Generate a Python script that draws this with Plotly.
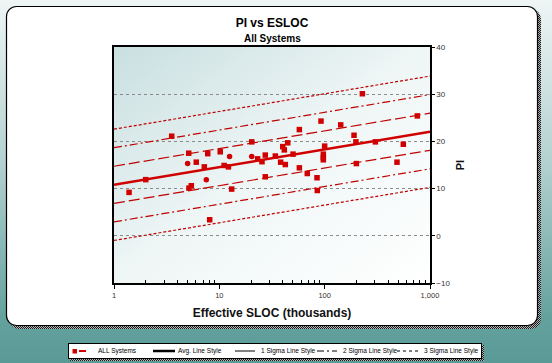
import base64
import math
import plotly.graph_objects as go

# ---------------- data ----------------
esloc_k = [1.39, 2.0, 3.53, 5.12, 5.0, 6.04, 5.42, 5.15, 7.2, 7.76,
           7.52, 8.1, 10.2, 11.1, 12.2, 12.5, 13.1, 20.3, 20.3, 23.1,
           25.4, 27.3, 27.3, 34.0, 38.2, 40.0, 41.4, 42.3, 44.6, 50.1,
           57.5, 57.5, 68.4, 84.6, 85.1, 92.3, 97.1, 97.1, 97.1, 100.0,
           142.0, 190.0, 198.0, 200.0, 228.0, 303.0, 486.0, 558.0, 758.0]
pi_values = [9.2, 11.9, 21.1, 17.5, 15.3, 15.6, 10.6, 10.1, 14.6, 17.4,
             11.9, 3.4, 17.8, 14.9, 14.6, 16.8, 9.9, 19.9, 16.8, 16.3,
             15.7, 17.1, 12.5, 16.9, 15.6, 18.9, 18.2, 15.1, 19.7, 17.3,
             22.5, 14.4, 13.2, 12.3, 9.6, 24.3, 17.3, 16.6, 16.1, 19.0,
             23.5, 21.3, 19.9, 15.3, 30.1, 19.9, 15.6, 19.4, 25.4]
round_points = [4, 10, 15, 18]

fit_intercept = 10.8   # PI at 1K ESLOC
fit_slope = 3.75       # PI per decade of ESLOC
fit_sigma = 3.93
fit_x = [1, 1000]
sigma_levels = [1, 2, 3]

x_tick_vals = [1, 10, 100, 1000]
x_tick_text = ["1", "10", "100", "1,000"]
x_minor_vals = [m * d for d in (1, 10, 100) for m in range(2, 10)]
y_tick_vals = [-10, 0, 10, 20, 30, 40]
legend_labels = ["ALL Systems", "Avg. Line Style", "1 Sigma Line Style",
                 "2 Sigma Line Style", "3 Sigma Line Style"]

# ---------------- layout geometry ----------------
W, H = 552, 363
L, R, T, B = 114, 430, 47, 283
PW, PH = R - L, B - T


def px_x(px):
    return (px - L) / PW


def px_y(py):
    return (B - py) / PH


RED_M = "#d00000"
RED_L = "#c00000"
FONT = "Liberation Sans, Arial, sans-serif"

svg = f'''<svg xmlns="http://www.w3.org/2000/svg" width="{W}" height="{H}" viewBox="0 0 {W} {H}" preserveAspectRatio="none">
<defs>
<linearGradient id="bg" x1="0" y1="0" x2="0" y2="1">
<stop offset="0" stop-color="#eef5f5"/><stop offset="0.45" stop-color="#b3d1d0"/>
<stop offset="0.88" stop-color="#63a19d"/><stop offset="1" stop-color="#5a9a96"/></linearGradient>
<linearGradient id="pa" x1="0" y1="0" x2="1" y2="1">
<stop offset="0" stop-color="#c9dfe0"/><stop offset="0.5" stop-color="#eff6f6"/>
<stop offset="1" stop-color="#ffffff"/></linearGradient>
<pattern id="chk" width="2" height="2" patternUnits="userSpaceOnUse">
<rect width="2" height="2" fill="#b8b8b8"/><rect width="1" height="1" fill="#1a1a1a"/>
<rect x="1" y="1" width="1" height="1" fill="#1a1a1a"/></pattern>
</defs>
<rect width="{W}" height="{H}" fill="url(#bg)"/>
<rect x="9" y="9" width="532" height="320" rx="10" fill="url(#chk)"/>
<rect x="6.5" y="6.5" width="531" height="319" rx="10" fill="#ffffff" stroke="#000" stroke-width="1.2"/>
<rect x="{L}" y="{T}" width="{PW}" height="{PH}" fill="url(#pa)"/>
<rect x="70" y="345" width="414" height="16" fill="url(#chk)"/>
<rect x="68.5" y="343.5" width="413" height="15" fill="#ffffff" stroke="#000" stroke-width="1"/>
</svg>'''
svg_uri = "data:image/svg+xml;base64," + base64.b64encode(svg.encode()).decode()

fig = go.Figure()

# fit lines
dash_styles = {1: "11px,4px", 2: "8px,3px,2px,3px", 3: "3px,2px"}
for k in sigma_levels:
    for sgn in (1, -1):
        ys = [fit_intercept + fit_slope * math.log10(x) + sgn * k * fit_sigma for x in fit_x]
        fig.add_trace(go.Scatter(x=fit_x, y=ys, mode="lines", hoverinfo="skip",
                                 line=dict(color=RED_L, width=1.2, dash=dash_styles[k])))
fig.add_trace(go.Scatter(x=fit_x, y=[fit_intercept + fit_slope * math.log10(x) for x in fit_x],
                         mode="lines", line=dict(color=RED_M, width=2.6), hoverinfo="skip"))

symbols = ["circle" if i in round_points else "square" for i in range(len(esloc_k))]
fig.add_trace(go.Scatter(x=esloc_k, y=pi_values, mode="markers", name=legend_labels[0],
                         marker=dict(symbol=symbols, size=5.5, color=RED_M, line=dict(width=0))))

fig.update_layout(
    width=W, height=H,
    margin=dict(l=L, r=W - R, t=T, b=H - B),
    paper_bgcolor="#5a9a96", plot_bgcolor="rgba(0,0,0,0)",
    showlegend=False,
    font=dict(family=FONT, color="#000"),
    title=dict(text="<b>PI vs ESLOC</b>", x=(L + R) / 2 / W, xanchor="center",
               y=1 - 23 / H, yanchor="middle", font=dict(size=12, color="#000")),
    images=[dict(source=svg_uri, xref="paper", yref="paper",
                 x=-L / PW, y=1 + T / PH, sizex=W / PW, sizey=H / PH,
                 xanchor="left", yanchor="top", sizing="stretch", layer="below")],
)

fig.update_xaxes(type="log", range=[0, 3], showgrid=False, zeroline=False,
                 tickmode="array", tickvals=x_tick_vals, ticktext=x_tick_text,
                 ticks="outside", ticklen=4, tickcolor="#000",
                 tickfont=dict(size=7.5, color="#333"),
                 showline=True, linecolor="#000", linewidth=1.5, mirror=True,
                 minor=dict(tickmode="array", tickvals=x_minor_vals, ticks="inside",
                            ticklen=3, tickcolor="#000", showgrid=False),
                 title=dict(text="<b>Effective SLOC (thousands)</b>",
                            font=dict(size=12, color="#111"), standoff=10))
fig.update_yaxes(range=[-10, 40], side="right", tickmode="array", tickvals=y_tick_vals,
                 ticks="outside", ticklen=3, tickcolor="#000",
                 tickfont=dict(size=8, color="#333"),
                 showgrid=True, gridcolor="#8a8a8a", gridwidth=1, griddash="3px,3px",
                 zeroline=False,
                 showline=True, linecolor="#000", linewidth=1.5, mirror=True,
                 title=dict(text="<b>PI</b>", font=dict(size=11, color="#111"), standoff=7))

# subtitle
fig.add_annotation(text="<b>All Systems</b>", xref="paper", yref="paper",
                   x=0.5, y=px_y(38), xanchor="center", yanchor="middle",
                   showarrow=False, font=dict(size=10, color="#000"))

# legend (manual)
ly = px_y(351)
fig.add_shape(type="rect", xref="paper", yref="paper", x0=px_x(72.5), x1=px_x(77),
              y0=px_y(349), y1=px_y(353.5), fillcolor=RED_M, line=dict(width=0))
fig.add_shape(type="line", xref="paper", yref="paper", x0=px_x(79), x1=px_x(86),
              y0=ly, y1=ly, line=dict(color=RED_M, width=2))
fig.add_shape(type="line", xref="paper", yref="paper", x0=px_x(153), x1=px_x(175),
              y0=ly, y1=ly, line=dict(color="#000", width=2.5))
fig.add_shape(type="line", xref="paper", yref="paper", x0=px_x(235), x1=px_x(255),
              y0=ly, y1=ly, line=dict(color="#000", width=1))
fig.add_shape(type="line", xref="paper", yref="paper", x0=px_x(317), x1=px_x(337),
              y0=ly, y1=ly, line=dict(color="#000", width=1, dash="7px,3px,2px,3px"))
fig.add_shape(type="line", xref="paper", yref="paper", x0=px_x(397), x1=px_x(420),
              y0=ly, y1=ly, line=dict(color="#000", width=1, dash="3px,3px"))
for label, xpx in zip(legend_labels, [95.5, 176, 258.5, 340.5, 421.5]):
    fig.add_annotation(text=label, xref="paper", yref="paper", x=px_x(xpx), y=ly,
                       xanchor="left", yanchor="middle", showarrow=False,
                       font=dict(size=6.5, color="#000"))

fig.write_html("out.html", config={"displayModeBar": False},
               post_script="document.body.style.margin='0';document.body.style.overflow='hidden';")
